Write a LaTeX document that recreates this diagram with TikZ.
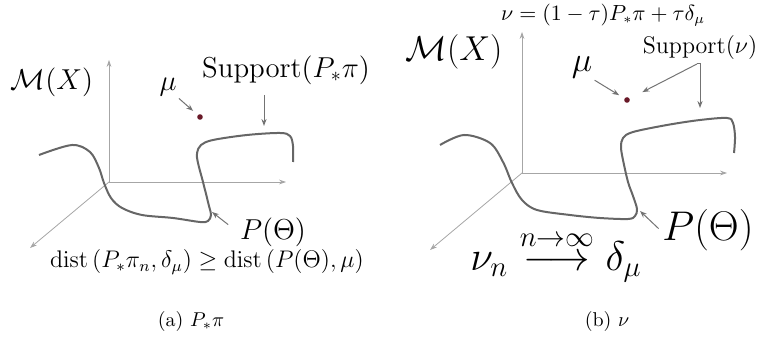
\documentclass[tikz,border=0pt]{standalone}
\usepackage{amsmath}
\usetikzlibrary{arrows.meta}
\definecolor{dotred}{RGB}{105,25,40}

\begin{document}
\begin{tikzpicture}[
    x=0.5pt,y=-0.5pt,
    lbl/.style={inner sep=1pt},
    axis/.style={draw=black!35,line width=0.4pt,-{Stealth[length=3.5pt,width=2.4pt]}},
    arrow/.style={draw=black!55,line width=0.5pt,-{Stealth[length=3.5pt,width=2.6pt]}},
    curve/.style={draw=black!60,line width=1pt},
    dot/.style={circle,fill=dotred,inner sep=0pt,minimum size=2.8pt}
  ]
    \useasboundingbox (0,0) rectangle (764,356);
    % (a) left panel
    \coordinate (oa) at (109,182);
    \coordinate (ya) at (109,60);
    \coordinate (xa) at (286,182);
    \coordinate (za) at (30,248);
    \draw[axis] (oa) -- (ya);
    \draw[axis] (oa) -- (xa);
    \draw[axis] (oa) -- (za);
    \draw[curve] plot[smooth,tension=0.55] coordinates {(39,155) (72,145) (90,152) (99,168) (104,183) (111,198) (122,208) (142,215) (173,218) (200,222) (208,221) (211,215) (209,206) (203,182) (198,163) (197,153) (201,145) (213,140) (247,135) (280,133) (290,136) (293,146) (293,162)};
    \node[lbl,font=\Large] (mxa) at (52,82) {$\mathcal{M}(X)$};
    \node[lbl,font=\Large] (mua) at (168,87) {$\mu$};
    \node[dot] (dota) at (200,117) {};
    \node[lbl,font=\Large] (suppa) at (286,70) {Support$(P_*\pi)$};
    \node[lbl,font=\Large] (pthetaa) at (273,232) {$P(\Theta)$};
    \node[lbl,font=\large] (dista) at (207,262) {$\operatorname{dist}\left(P_*\pi_n,\delta_\mu\right)\geq\operatorname{dist}\left(P(\Theta),\mu\right)$};
    \node[lbl] (capa) at (191,322) {(a) $P_*\pi$};
    \coordinate (sa) at (264,126);
    \coordinate (pa) at (212,212);
    \draw[arrow,shorten >=3pt] (mua.south east) -- (dota);
    \draw[arrow,shorten <=4pt] (suppa.south -| sa) -- (sa);
    \draw[arrow,shorten <=6pt] (pthetaa.west) -- (pa);
    % (b) right panel
    \coordinate (ob) at (522,173);
    \coordinate (yb) at (522,32);
    \coordinate (xb) at (727,173);
    \coordinate (zb) at (430,250);
    \draw[axis] (ob) -- (yb);
    \draw[axis] (ob) -- (xb);
    \draw[axis] (ob) -- (zb);
    \draw[curve] plot[smooth,tension=0.55] coordinates {(440,145) (464,135) (490,143) (503,162) (512,183) (522,200) (537,210) (570,215) (600,218) (628,219) (635,216) (637,209) (633,196) (628,182) (623,160) (621,147) (623,138) (633,132) (667,125) (700,120) (727,118) (733,123) (735,137) (734,153)};
    \node[lbl,font=\fontsize{10.6}{12}\selectfont] (nueq) at (603,15) {$\nu=(1-\tau)P_*\pi+\tau\delta_\mu$};
    \node[lbl,font=\LARGE] (mxb) at (454,52) {$\mathcal{M}(X)$};
    \node[lbl,font=\LARGE] (mub) at (582,67) {$\mu$};
    \node[dot] (dotb) at (627,100) {};
    \node[lbl,font=\large] (suppb) at (700,48) {Support$(\nu)$};
    \node[lbl,font=\huge] (pthetab) at (708,230) {$P(\Theta)$};
    \node[lbl,font=\huge] (limb) at (556,256) {$\nu_n\overset{n\to\infty}{\longrightarrow}\delta_\mu$};
    \node[lbl] (capb) at (607,322) {(b) $\nu$};
    \coordinate (cb) at (697,64);
    \coordinate (sb) at (700,108);
    \coordinate (pb) at (640,211);
    \draw[arrow,shorten >=3pt] (mub.south east) -- (dotb);
    \draw[arrow,shorten >=7pt] (cb) -- (dotb);
    \draw[arrow] (cb) -- (cb -| sb) -- (sb);
    \draw[arrow,shorten <=1pt] (pthetab.west) -- (pb);
\end{tikzpicture}
\end{document}
